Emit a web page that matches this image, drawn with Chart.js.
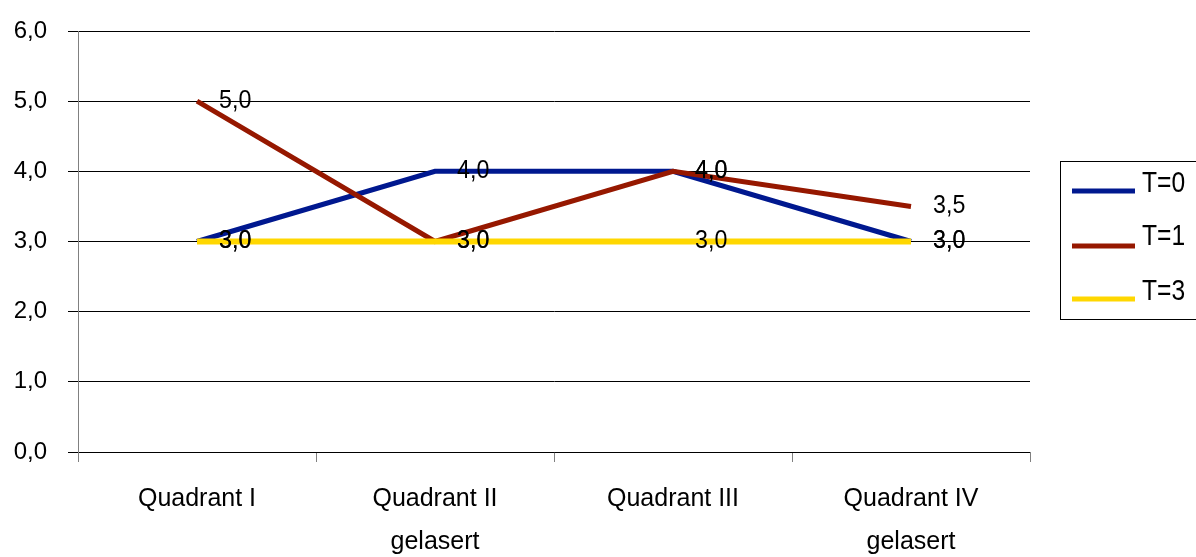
<!DOCTYPE html>
<html>
<head>
<meta charset="utf-8">
<script src="https://cdn.jsdelivr.net/npm/chart.js@4.4.0/dist/chart.umd.min.js"></script>
<style>
html,body{margin:0;padding:0;background:#fff;}
#wrap{position:relative;width:1196px;height:557px;}
</style>
</head>
<body>
<div id="wrap"><canvas id="c" width="1196" height="557"></canvas></div>
<script>
const categories = [['Quadrant I'], ['Quadrant II', 'gelasert'], ['Quadrant III'], ['Quadrant IV', 'gelasert']];
const seriesNames = ['T=0', 'T=1', 'T=3'];
const t0Values = [3.0, 4.0, 4.0, 3.0];
const t1Values = [5.0, 3.0, 4.0, 3.5];
const t3Values = [3.0, 3.0, 3.0, 3.0];
const yTickLabels = ['0,0', '1,0', '2,0', '3,0', '4,0', '5,0', '6,0'];

const FONT = "'Liberation Sans', Arial, sans-serif";
const fmt = v => v.toFixed(1).replace('.', ',');

const dataLabels = {
  id: 'dataLabels',
  afterDatasetsDraw(chart) {
    const ctx = chart.ctx;
    ctx.save();
    ctx.font = "25px " + FONT;
    ctx.fillStyle = '#000';
    ctx.textAlign = 'left';
    ctx.textBaseline = 'middle';
    chart.data.datasets.forEach((ds, i) => {
      const meta = chart.getDatasetMeta(i);
      meta.data.forEach((pt, j) => {
        ctx.save();
        ctx.translate(pt.x + 22, pt.y);
        ctx.scale(0.93, 1);
        ctx.fillText(fmt(ds.data[j]), 0, 0);
        ctx.restore();
      });
    });
    ctx.restore();
  }
};

const customLegend = {
  id: 'customLegend',
  afterDraw(chart) {
    const ctx = chart.ctx;
    ctx.save();
    ctx.strokeStyle = '#000';
    ctx.lineWidth = 1;
    ctx.strokeRect(1060.5, 161.5, 136, 158);
    const ys = [191, 246, 299];
    const ty = [184, 237, 292];
    ctx.font = "30px " + FONT;
    ctx.textAlign = 'left';
    ctx.textBaseline = 'middle';
    chart.data.datasets.forEach((ds, i) => {
      ctx.strokeStyle = ds.borderColor;
      ctx.lineWidth = 5;
      ctx.beginPath();
      ctx.moveTo(1072, ys[i]);
      ctx.lineTo(1135, ys[i]);
      ctx.stroke();
      ctx.fillStyle = '#000';
      ctx.save();
      ctx.translate(1142, ty[i]);
      ctx.scale(0.82, 1);
      ctx.fillText(ds.label, 0, 0);
      ctx.restore();
    });
    ctx.restore();
  }
};

new Chart(document.getElementById('c'), {
  type: 'line',
  data: {
    labels: categories,
    datasets: [
      { label: seriesNames[0], data: t0Values, borderColor: '#00188F', borderWidth: 5, order: 2 },
      { label: seriesNames[1], data: t1Values, borderColor: '#961800', borderWidth: 5, order: 1 },
      { label: seriesNames[2], data: t3Values, borderColor: '#FFD700', borderWidth: 6, order: 0 }
    ]
  },
  options: {
    responsive: false,
    animation: false,
    devicePixelRatio: 1,
    layout: { padding: { top: 31, right: 166, bottom: 0, left: 0 } },
    elements: { point: { radius: 0, hoverRadius: 0 }, line: { tension: 0, borderCapStyle: 'butt', borderJoinStyle: 'miter' } },
    plugins: { legend: { display: false }, tooltip: { enabled: false } },
    scales: {
      x: {
        offset: true,
        grid: { display: true, offset: true, drawOnChartArea: false, drawTicks: true, tickLength: 10, color: '#808080', lineWidth: 1 },
        border: { display: false },
        ticks: { color: '#000', font: { family: FONT, size: 25, lineHeight: '43px' }, padding: 16, maxRotation: 0, autoSkip: false },
        afterFit(s) { s.height = 105; s.paddingLeft = 0; s.paddingRight = 0; }
      },
      y: {
        min: 0, max: 6,
        grid: { color: '#000', lineWidth: 1, tickLength: 10 },
        border: { display: true, color: '#808080', width: 1 },
        ticks: { stepSize: 1, color: '#000', font: { family: FONT, size: 24 }, padding: 21,
          callback: (v) => yTickLabels[Math.round(v)] },
        afterFit(s) { s.width = 78; s.paddingTop = 0; s.paddingBottom = 0; }
      }
    }
  },
  plugins: [dataLabels, customLegend]
});
</script>
</body>
</html>
